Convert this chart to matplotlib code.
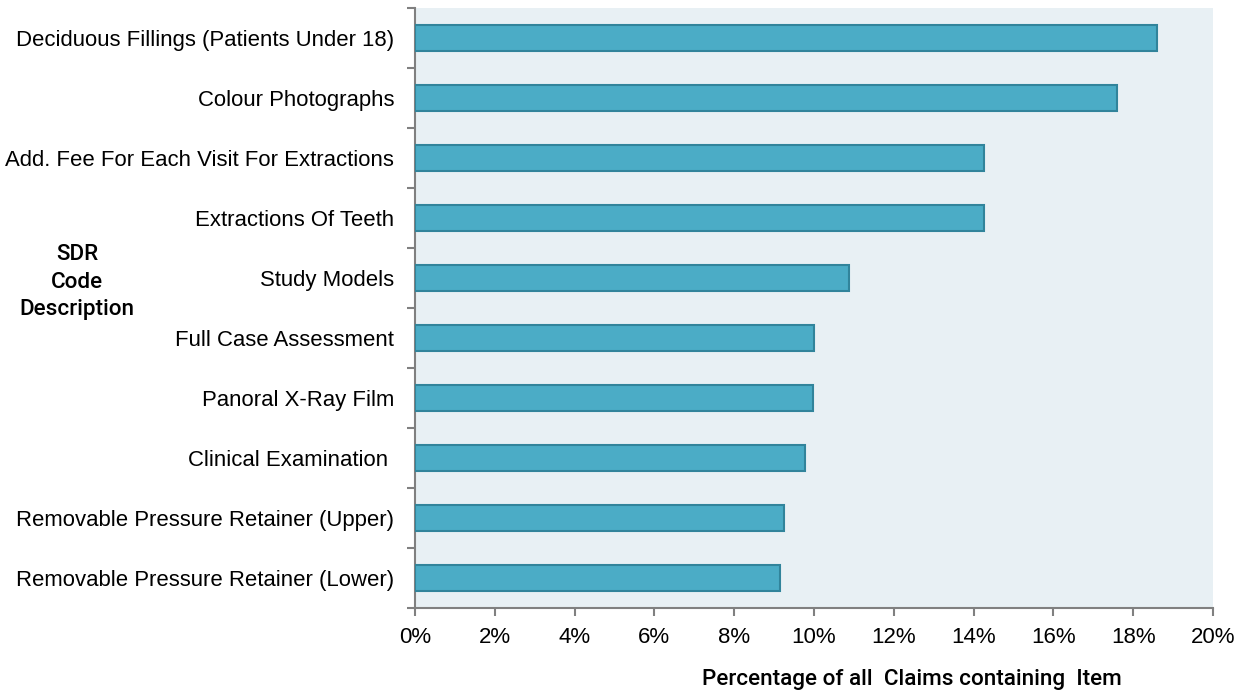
import matplotlib
matplotlib.use("Agg")
import matplotlib.pyplot as plt
from matplotlib.ticker import FixedLocator, PercentFormatter

plt.rcParams['font.family'] = ['Liberation Sans', 'DejaVu Sans']

categories = [
    "Deciduous Fillings (Patients Under 18)",
    "Colour Photographs",
    "Add. Fee For Each Visit For Extractions",
    "Extractions Of Teeth",
    "Study Models",
    "Full Case Assessment",
    "Panoral X-Ray Film",
    "Clinical Examination ",
    "Removable Pressure Retainer (Upper)",
    "Removable Pressure Retainer (Lower)",
]
percentages = [18.6, 17.6, 14.26, 14.26, 10.87, 10.0, 9.97, 9.78, 9.25, 9.14]
x_ticks = [0, 2, 4, 6, 8, 10, 12, 14, 16, 18, 20]

fig = plt.figure(figsize=(12.45, 6.9), dpi=100)
ax = fig.add_axes([0.3333, 0.1188, 0.6410, 0.8696])
ax.set_facecolor('#E8F0F4')

ypos = list(range(len(categories)))
ax.barh(ypos, percentages, height=0.42, color='#4BACC6',
        edgecolor='#31849B', linewidth=1.5, zorder=3)

ax.set_ylim(len(categories) - 0.5, -0.5)
ax.set_xlim(0, 20)

ax.set_yticks(ypos)
ax.set_yticklabels(categories, fontsize=15.9)
ax.tick_params(axis='y', which='major', length=0, pad=15)
ax.yaxis.set_minor_locator(FixedLocator([i - 0.5 for i in range(len(categories) + 1)]))
ax.tick_params(axis='y', which='minor', length=6, width=1.5, color='#808080', direction='out')

ax.set_xticks(x_ticks)
ax.xaxis.set_major_formatter(PercentFormatter(decimals=0))
ax.tick_params(axis='x', which='major', length=6, width=1.5, color='#808080',
               labelsize=16, pad=8)

for side in ('top', 'right'):
    ax.spines[side].set_visible(False)
for side in ('left', 'bottom'):
    ax.spines[side].set_color('#808080')
    ax.spines[side].set_linewidth(1.5)

fig.text(77 / 1245, 1 - 282 / 690, "SDR\nCode\nDescription", ha='center', va='center',
         fontsize=16.2, linespacing=1.4, family=['Roboto', 'DejaVu Sans'], weight='medium')
fig.text(912 / 1245, 1 - 679 / 690, "Percentage of all  Claims containing  Item",
         ha='center', va='center', fontsize=16.2, family=['Roboto', 'DejaVu Sans'],
         weight='medium')

fig.savefig("out.png", dpi=100)
